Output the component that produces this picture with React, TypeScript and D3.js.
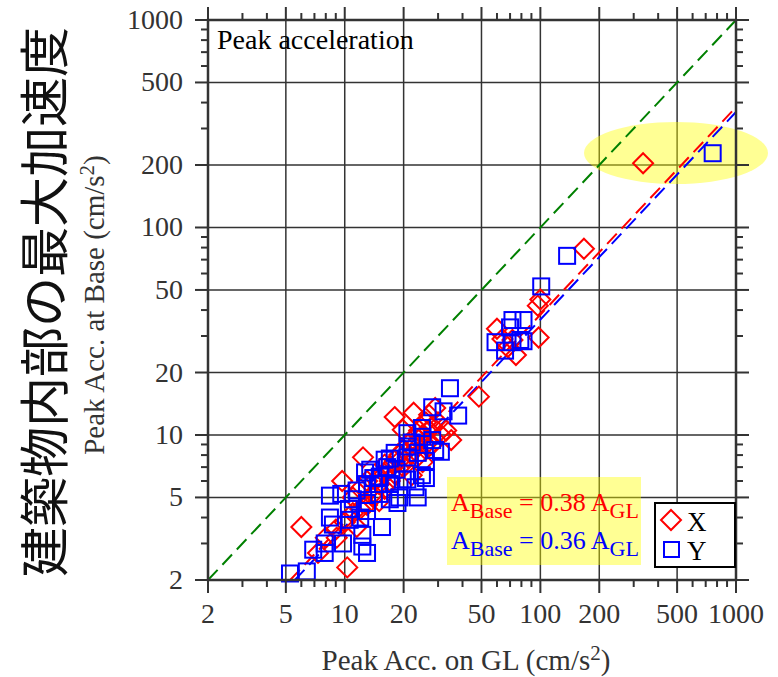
import React from "react";
import * as d3 from "d3";

const W = 778;
const H = 677;

// Peak acceleration data [GL, Base] (cm/s^2)
const seriesX: [number, number][] = [
  [335, 204], [167, 79], [100, 45], [97, 42], [98, 29.5], [60, 32.5], [72, 28.7], [68, 26.5], [75, 24.3], [64, 29],
  [48.5, 15.3], [35, 9.45], [33, 10.5], [29, 13.5], [22.5, 12.8], [18, 12.2], [25, 7.4], [22, 6.4], [19.8, 10.6],
  [12.4, 7.8], [9.7, 6.0], [6.0, 3.6], [10.3, 2.3], [14.5, 6.1], [11, 5], [7.3, 2.7], [9.1, 3.2], [26, 11.5], [24, 10.5],
  [12, 5.5], [13, 6], [14, 5.2], [15, 5.8], [16, 6.5], [17, 7], [18, 7.5], [19, 8], [20, 8.5], [21, 7.8], [22, 8.2],
  [23, 9], [24, 9.5], [25, 10], [26, 9], [27, 10.5], [28, 11], [30, 11.5], [15, 4.8], [13, 4.6], [11, 4.2], [10, 3.8],
  [9, 3.5], [16, 5.5], [18, 6.5], [20, 7], [24, 8], [28, 9], [12, 4.4], [14, 5], [17, 6], [19, 7.5], [22, 9.5], [26, 8.5],
  [31, 10], [21, 9], [16, 7.2], [8, 3.2], [11.5, 3.6], [27, 12.5]
];

const seriesY: [number, number][] = [
  [760, 228], [137, 73], [101, 52], [72, 35.8], [82, 35.8], [70, 33], [59, 28], [72, 28], [82, 28.3], [66, 25.5], [79, 28.7],
  [34.5, 16.8], [28, 13.6], [38, 12.4], [32, 13], [24.8, 10.8], [20.9, 10.2], [28, 9.45], [29, 8.46], [23.6, 8.2],
  [20.9, 7.8], [17, 7.7], [16.5, 7], [18.4, 6.8], [24.8, 6.4], [26, 6.2], [20.9, 6.1], [13.5, 6.8], [15.1, 6.3],
  [17, 5.8], [13, 5.8], [12.7, 6.6], [14.8, 5.8], [19.8, 6.1], [23, 5.6], [8.4, 5.1], [9.6, 5.2], [11, 4.9], [13, 4.7],
  [19, 5], [18.6, 4.7], [8.4, 4.0], [8.7, 3.7], [10.6, 3.9], [13, 4.3], [15.5, 3.6], [9.8, 3.0], [12.3, 2.9], [13, 2.7],
  [6.9, 2.8], [7.9, 2.7], [5.25, 2.15], [6.4, 2.2], [7.9, 3.0], [12.3, 3.3], [31, 8.3], [23.6, 5.0], [22, 9.2], [25, 9.8],
  [21, 8.8], [18, 8.2], [16, 7.6], [14, 6.2], [11.5, 5.4], [10.5, 4.4], [12, 4.0], [15, 5.2], [17, 4.9], [26, 7.5]
];

const majorTicks = [2, 5, 10, 20, 50, 100, 200, 500, 1000];
const minorTicks = [3, 4, 6, 7, 8, 9, 30, 40, 60, 70, 80, 90, 300, 400, 600, 700, 800, 900];
const slopeX = 0.38;
const slopeY = 0.36;

const x = d3.scaleLog().domain([2, 1000]).range([208, 736]);
const y = d3.scaleLog().domain([2, 1000]).range([580, 20]);

const AX = "#333";
const FONT = "'Liberation Serif', 'Times New Roman', serif";

export default function App() {
  const [x0, x1] = x.range();
  const [y0, y1] = y.range();
  const line = d3.line<[number, number]>().x((d) => x(d[0])).y((d) => y(d[1]));
  const fitLine = (s: number): [number, number][] => [
    [2 / s, 2],
    [1000, 1000 * s],
  ];
  const diamond = (cx: number, cy: number, r: number) =>
    `M${cx},${cy - r}L${cx + r},${cy}L${cx},${cy + r}L${cx - r},${cy}Z`;

  return (
    <svg width={W} height={H} style={{ position: "absolute", left: 0, top: 0, background: "#fff" }} fontFamily={FONT}>
      <defs>
        <clipPath id="plot">
          <rect x={x0} y={y1} width={x1 - x0} height={y0 - y1} />
        </clipPath>
      </defs>
      {/* grid */}
      {majorTicks.map((t) => (
        <g key={"g" + t}>
          <line x1={x(t)} x2={x(t)} y1={y1} y2={y0} stroke={AX} strokeWidth={1.5} />
          <line x1={x0} x2={x1} y1={y(t)} y2={y(t)} stroke={AX} strokeWidth={1.5} />
        </g>
      ))}
      {/* highlight ellipse */}
      <ellipse cx={676} cy={153} rx={92} ry={31} fill="#ffff00" opacity={0.42} />
      <g clipPath="url(#plot)" fill="none" strokeWidth={2}>
        <path d={line([[2, 2], [1000, 1000]]) || ""} stroke="#008000" strokeDasharray="14 7" />
        <path d={line(fitLine(slopeX)) || ""} stroke="#ff0000" strokeDasharray="14 7" />
        <path d={line(fitLine(slopeY)) || ""} stroke="#0000ff" strokeDasharray="14 7" />
      </g>
      {/* points */}
      <g fill="none" strokeWidth={2}>
        {seriesX.map((d, i) => (
          <path key={"x" + i} d={diamond(x(d[0]), y(d[1]), 10)} stroke="#ff0000" />
        ))}
        {seriesY.map((d, i) => (
          <rect key={"y" + i} x={x(d[0]) - 8} y={y(d[1]) - 8} width={16} height={16} stroke="#0000ff" />
        ))}
      </g>
      {/* frame */}
      <rect x={x0} y={y1} width={x1 - x0} height={y0 - y1} fill="none" stroke={AX} strokeWidth={2.5} />
      {/* ticks */}
      <g stroke={AX} strokeWidth={2}>
        {majorTicks.map((t) => (
          <g key={"t" + t}>
            <line x1={x(t)} x2={x(t)} y1={y0} y2={y0 + 13} />
            <line x1={x(t)} x2={x(t)} y1={y1} y2={y1 - 13} />
            <line x1={x0} x2={x0 - 13} y1={y(t)} y2={y(t)} />
            <line x1={x1} x2={x1 + 13} y1={y(t)} y2={y(t)} />
          </g>
        ))}
        {minorTicks.map((t) => (
          <g key={"m" + t}>
            <line x1={x(t)} x2={x(t)} y1={y0} y2={y0 + 7} />
            <line x1={x(t)} x2={x(t)} y1={y1} y2={y1 - 7} />
            <line x1={x0} x2={x0 - 7} y1={y(t)} y2={y(t)} />
            <line x1={x1} x2={x1 + 7} y1={y(t)} y2={y(t)} />
          </g>
        ))}
      </g>
      {/* tick labels */}
      <g fill={AX} fontSize={28}>
        {majorTicks.map((t) => (
          <text key={"lx" + t} x={x(t)} y={623} textAnchor="middle">
            {t}
          </text>
        ))}
        {majorTicks.map((t) => (
          <text key={"ly" + t} x={183} y={y(t) + 9} textAnchor="end">
            {t}
          </text>
        ))}
      </g>
      {/* axis titles */}
      <text x={466} y={670} textAnchor="middle" fontSize={29} fill={AX}>
        Peak Acc. on GL (cm/s<tspan fontSize={21} dy={-10}>2</tspan>
        <tspan dy={10}>)</tspan>
      </text>
      <text transform="translate(104,305) rotate(-90)" textAnchor="middle" fontSize={29} fill={AX}>
        Peak Acc. at Base (cm/s<tspan fontSize={21} dy={-10}>2</tspan>
        <tspan dy={10}>)</tspan>
      </text>
      <text
        transform="translate(63,302) rotate(-90)"
        textAnchor="middle"
        fontSize={50}
        fill="#111"
        fontFamily="'Noto Sans CJK JP', sans-serif"
      >
        建築物内部の最大加速度
      </text>
      <text x={217} y={49} fontSize={28} fill="#000">
        Peak acceleration
      </text>
      {/* fit annotation */}
      <rect x={447} y={477} width={194} height={88} fill="#ffff00" opacity={0.42} />
      <text x={451} y={511} fontSize={26} fill="#ff0000">
        A<tspan fontSize={22} dy={7}>Base</tspan>
        <tspan dy={-7}> = 0.38 A</tspan>
        <tspan fontSize={22} dy={7}>GL</tspan>
      </text>
      <text x={451} y={549} fontSize={26} fill="#0000ff">
        A<tspan fontSize={22} dy={7}>Base</tspan>
        <tspan dy={-7}> = 0.36 A</tspan>
        <tspan fontSize={22} dy={7}>GL</tspan>
      </text>
      {/* legend */}
      <rect x={655} y={503} width={80} height={64} fill="#fff" stroke="#000" strokeWidth={2} />
      <path d={diamond(671, 520, 10)} fill="none" stroke="#ff0000" strokeWidth={2} />
      <rect x={664} y={542} width={15} height={15} fill="none" stroke="#0000ff" strokeWidth={2} />
      <text x={687} y={531} fontSize={27} fill="#000">X</text>
      <text x={687} y={560} fontSize={27} fill="#000">Y</text>
    </svg>
  );
}
